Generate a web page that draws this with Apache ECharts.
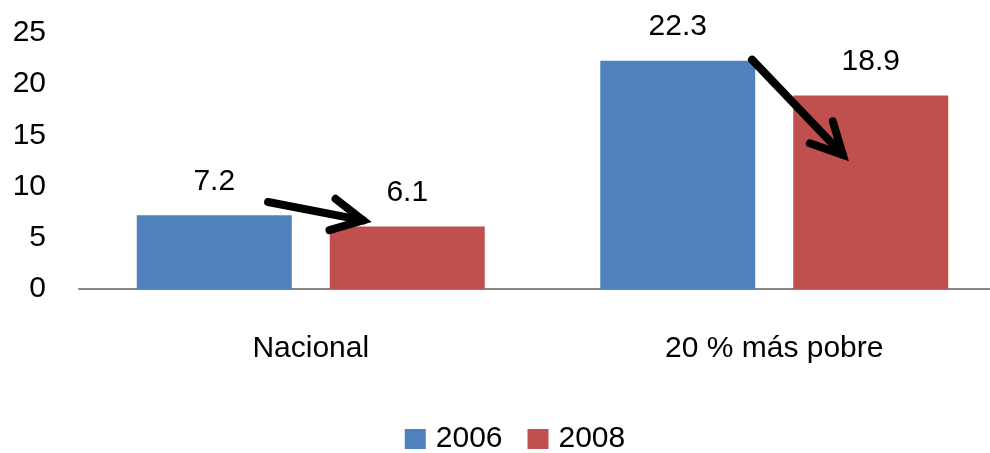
<!DOCTYPE html>
<html>
<head>
<meta charset="utf-8">
<script src="https://cdn.jsdelivr.net/npm/echarts@6/dist/echarts.min.js"></script>
<style>html,body{margin:0;padding:0;background:#fff;overflow:hidden}#c{width:1030px;height:453px}</style>
</head>
<body>
<div id="c"></div>
<script>
const categories = ['Nacional', '20 % más pobre'];
const seriesNames = ['2006', '2008'];
const values2006 = [7.2, 22.3];
const values2008 = [6.1, 18.9];
const yTicks = [0, 5, 10, 15, 20, 25];
// arrow annotations: [categoryIndex, offset within category (fraction of width), value]
const arrowTails = [[0, -0.092, 8.5], [1, -0.048, 22.4]];
const arrowTips  = [[0, 0.113, 6.7], [1, 0.148, 13.1]];

const FONT = 'Liberation Sans, Arial, sans-serif';
const chart = echarts.init(document.getElementById('c'), null, {renderer: 'canvas'});

const labelOpt = {
  show: true, position: 'top', distance: 19,
  color: '#000', fontSize: 30, fontFamily: FONT,
  formatter: p => p.value.toFixed(1)
};

chart.setOption({
  animation: false,
  backgroundColor: '#fff',
  grid: {left: 79, width: 927, top: 33, height: 256, containLabel: false},
  legend: {
    bottom: -6, left: 'center',
    itemWidth: 21, itemHeight: 20, itemGap: 25, icon: 'rect',
    textStyle: {fontSize: 30, fontFamily: FONT, color: '#000', padding: [0, 0, 0, 5]},
    data: seriesNames
  },
  xAxis: {
    type: 'category', data: categories,
    axisTick: {show: false},
    axisLine: {lineStyle: {color: '#868686', width: 2}},
    axisLabel: {fontSize: 30, fontFamily: FONT, color: '#000', margin: 45}
  },
  yAxis: {
    type: 'value', min: yTicks[0], max: yTicks[yTicks.length - 1], interval: 5,
    splitLine: {show: false}, axisLine: {show: false}, axisTick: {show: false},
    axisLabel: {fontSize: 30, fontFamily: FONT, color: '#000', margin: 33}
  },
  series: [
    {name: seriesNames[0], type: 'bar', data: values2006, barWidth: 155, barGap: '24.5%',
     itemStyle: {color: '#4F81BD'}, label: labelOpt},
    {name: seriesNames[1], type: 'bar', data: values2008, barWidth: 155, barGap: '24.5%',
     itemStyle: {color: '#C0504D'}, label: labelOpt}
  ]
});

function toPx(a) {
  const c0 = chart.convertToPixel({xAxisIndex: 0}, 0);
  const c1 = chart.convertToPixel({xAxisIndex: 0}, 1);
  const w = c1 - c0;
  const cx = chart.convertToPixel({xAxisIndex: 0}, a[0]);
  const y = chart.convertToPixel({yAxisIndex: 0}, a[2]);
  return [cx + a[1] * w, y];
}

const graphics = [];
const ARM = 35, ANG = 27 * Math.PI / 180;
for (let i = 0; i < arrowTails.length; i++) {
  const t = toPx(arrowTails[i]);
  const h = toPx(arrowTips[i]);
  const back = Math.atan2(t[1] - h[1], t[0] - h[0]);
  const a1 = [h[0] + ARM * Math.cos(back + ANG), h[1] + ARM * Math.sin(back + ANG)];
  const a2 = [h[0] + ARM * Math.cos(back - ANG), h[1] + ARM * Math.sin(back - ANG)];
  const style = {stroke: '#000', lineWidth: 8, lineCap: 'round', lineJoin: 'miter', fill: null};
  graphics.push({type: 'line', shape: {x1: t[0], y1: t[1], x2: h[0], y2: h[1]}, style: style, z: 100});
  graphics.push({type: 'polyline', shape: {points: [a1, h, a2]}, style: style, z: 100});
}
chart.setOption({graphic: graphics});
</script>
</body>
</html>
